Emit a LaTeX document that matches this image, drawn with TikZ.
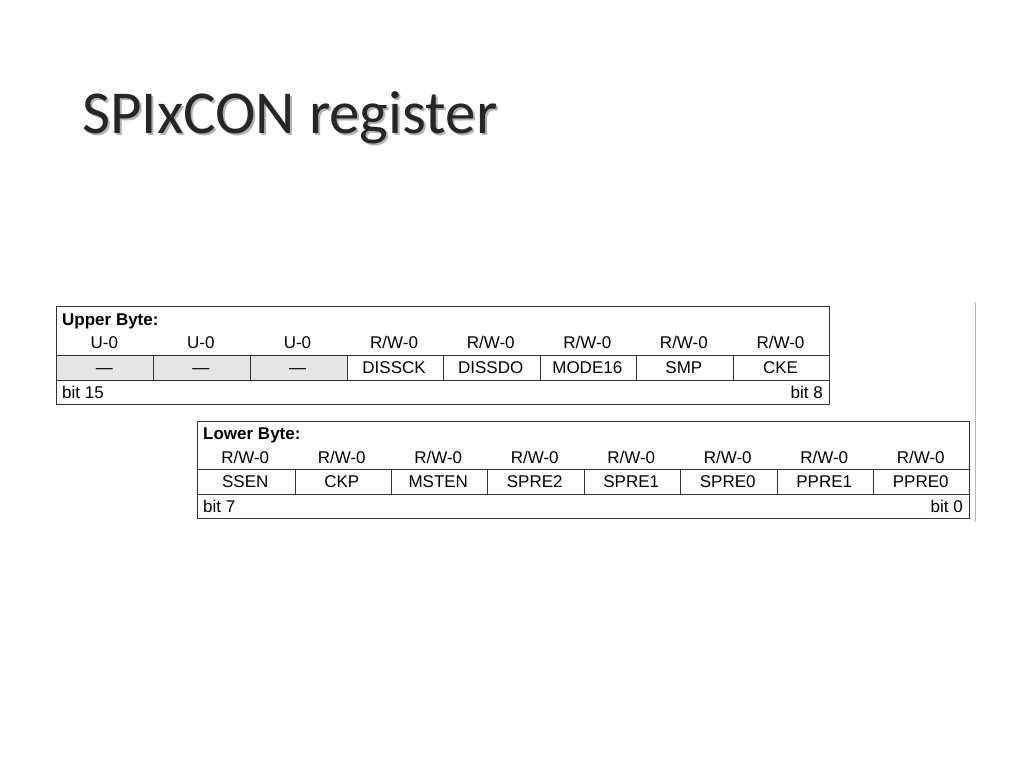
\documentclass[tikz,border=0pt]{standalone}
\usepackage{fontspec}
\setmainfont{Liberation Sans}
\newfontfamily\titlefont{Carlito}
\begin{document}
\begin{tikzpicture}[x=1pt,y=-1pt,
  tbl/.style={draw=black!80,line width=0.9pt},
  cell/.style={font=\fontsize{17}{18}\selectfont,anchor=center,inner sep=0pt},
  lbl/.style={font=\fontsize{17}{18}\selectfont,inner sep=0pt}]
\useasboundingbox (0,0) rectangle (1024,768);
\node[anchor=base west,inner sep=0pt,font=\titlefont\fontsize{61}{61}\selectfont,text=black!30] at (84,135) {SPIxCON register};
\node (title) [anchor=base west,inner sep=0pt,font=\titlefont\fontsize{61}{61}\selectfont,text=black!85] at (82,133) {SPIxCON register};
% grey line
\draw[black!30,line width=0.8pt] (975,302) -- (975,522);
% upper table
\fill[black!10] (56,355) rectangle (347,380);
\draw[tbl] (56,306) rectangle (829,404);
\draw[tbl] (56,355) -- (829,355) (56,380) -- (829,380);
\foreach \x in {153,250,347,443,540,636,733} \draw[tbl] (\x,355) -- (\x,380);
\node[lbl,anchor=base west,font=\bfseries\fontsize{17}{18}\selectfont] (ub) at (62,325) {Upper Byte:};
\foreach \a [count=\i from 0] in {U-0,U-0,U-0,{R/W-0},{R/W-0},{R/W-0},{R/W-0},{R/W-0}}{
  \pgfmathsetmacro\cx{56+96.6*\i+48.3}
  \node[cell,anchor=base] (ua\i) at (\cx,348) {\a};
}
\foreach \n [count=\i from 0] in {—,—,—,DISSCK,DISSDO,MODE16,SMP,CKE}{
  \pgfmathsetmacro\cx{56+96.6*\i+48.3}
  \node[cell,anchor=base] (un\i) at (\cx,373.5) {\n};
}
\node[lbl,anchor=base west] (b15) at (62,398) {bit 15};
\node[lbl,anchor=base east] (b8) at (823,398) {bit 8};
% lower table
\draw[tbl] (197,421) rectangle (969,518);
\draw[tbl] (197,469) -- (969,469) (197,494) -- (969,494);
\foreach \x in {295,391,487,584,680,777,873} \draw[tbl] (\x,469) -- (\x,494);
\node[lbl,anchor=base west,font=\bfseries\fontsize{17}{18}\selectfont] (lb) at (203,439) {Lower Byte:};
\foreach \n [count=\i from 0] in {SSEN,CKP,MSTEN,SPRE2,SPRE1,SPRE0,PPRE1,PPRE0}{
  \pgfmathsetmacro\cx{197+96.5*\i+48.25}
  \node[cell,anchor=base] (la\i) at (\cx,463) {R/W-0};
  \node[cell,anchor=base] (ln\i) at (\cx,487.5) {\n};
}
\node[lbl,anchor=base west] (b7) at (203,512) {bit 7};
\node[lbl,anchor=base east] (b0) at (963,512) {bit 0};
\end{tikzpicture}
\end{document}
